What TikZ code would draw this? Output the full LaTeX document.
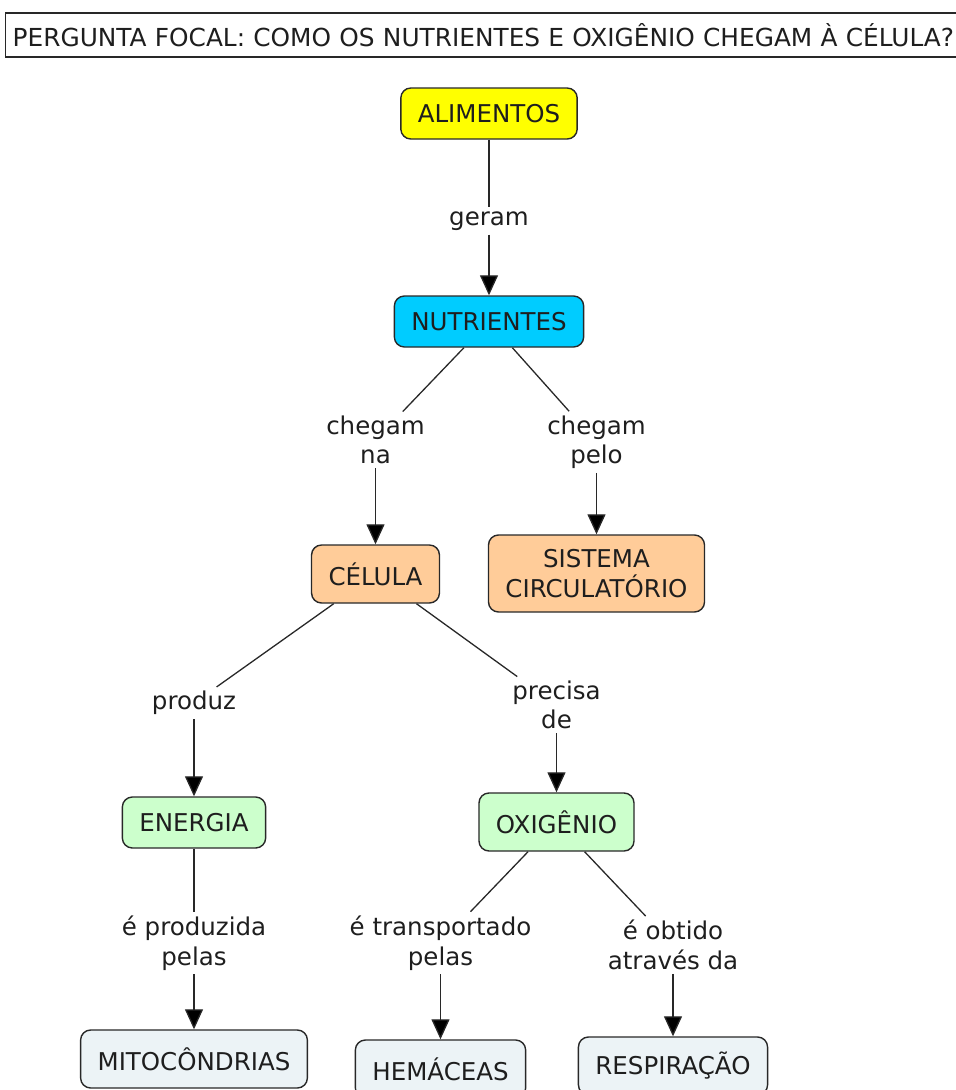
\documentclass[tikz,border=0pt]{standalone}
\usepackage{fontspec}
\setmainfont{DejaVu Sans}
\usepackage{tikz}
\usetikzlibrary{arrows.meta, positioning}
\definecolor{foodbg}{RGB}{255,255,0}
\definecolor{nutrbg}{RGB}{0,204,255}
\definecolor{orangebg}{RGB}{255,204,153}
\definecolor{greenbg}{RGB}{204,255,204}
\definecolor{greybg}{RGB}{236,243,246}
\definecolor{edgegray}{RGB}{40,40,40}
\definecolor{textgray}{RGB}{30,30,30}
\newcommand{\mapfont}{\fontsize{24.5}{29.5}\selectfont}
\tikzset{
  concept/.style={
    rectangle, rounded corners=10pt, draw=edgegray, line width=1.4pt,
    inner xsep=17pt, minimum height=51pt, align=center,
    font=\mapfont, text=textgray
  },
  linklabel/.style={align=center, font=\mapfont, text=textgray, inner sep=4pt},
  link/.style={draw=edgegray, line width=1.3pt},
  arrowlink/.style={link, -{Triangle[length=20pt, width=18pt, fill=black]}},
}

\begin{document}
\begin{tikzpicture}[x=1pt, y=-1pt]
  \useasboundingbox (0,0) rectangle (956,1090);

  % focal question
  \node[draw=edgegray, line width=1.4pt, anchor=west, minimum height=44pt,
        inner xsep=7pt, text width=948pt, align=left,
        font=\fontsize{24.8}{29.5}\selectfont, text=textgray] (focal) at (5,35)
        {PERGUNTA FOCAL: COMO OS NUTRIENTES E OXIGÊNIO CHEGAM À CÉLULA?};

  % concepts
  \node[concept, fill=foodbg] (alim) at (489,113.5) {ALIMENTOS};
  \node[concept, fill=nutrbg] (nutr) at (489,321.5) {NUTRIENTES};
  \node[concept, fill=orangebg, minimum height=58pt] (cel) at (375.5,574) {CÉLULA};
  \node[concept, fill=orangebg, minimum height=77pt] (sist) at (596.5,573.5) {SISTEMA\\CIRCULATÓRIO};
  \node[concept, fill=greenbg] (ener) at (194,822.5) {ENERGIA};
  \node[concept, fill=greenbg, minimum height=58pt] (oxi) at (556.5,822) {OXIGÊNIO};
  \node[concept, fill=greybg, minimum height=58pt] (mito) at (194,1059) {MITOCÔNDRIAS};
  \node[concept, fill=greybg, minimum height=58pt] (hema) at (440.5,1069) {HEMÁCEAS};
  \node[concept, fill=greybg, minimum height=58pt] (resp) at (673,1066) {RESPIRAÇÃO};

  % linking phrases
  \node[linklabel] (geram) at (489,221) {geram};
  \node[linklabel] (chegamna) at (375.5,440) {chegam\\na};
  \node[linklabel] (chegampelo) at (596.5,442) {chegam\\pelo};
  \node[linklabel] (produz) at (194,703) {produz};
  \node[linklabel] (precisa) at (556.5,705) {precisa\\de};
  \node[linklabel] (produzida) at (194,943) {é produzida\\pelas};
  \node[linklabel] (transp) at (440.5,943) {é transportado\\pelas};
  \node[linklabel] (obtido) at (673,945) {é obtido\\através da};

  % connectors
  \draw[link] (alim) -- (geram);
  \draw[arrowlink] (geram) -- (nutr);
  \draw[link] (nutr) -- (chegamna);
  \draw[arrowlink] (chegamna) -- (cel);
  \draw[link] (nutr) -- (chegampelo);
  \draw[arrowlink] (chegampelo) -- (sist);
  \draw[link] (cel) -- (produz);
  \draw[arrowlink] (produz) -- (ener);
  \draw[link] (cel) -- (precisa);
  \draw[arrowlink] (precisa) -- (oxi);
  \draw[link] (ener) -- (produzida);
  \draw[arrowlink] (produzida) -- (mito);
  \draw[link] (oxi) -- (transp);
  \draw[arrowlink] (transp) -- (hema);
  \draw[link] (oxi) -- (obtido);
  \draw[arrowlink] (obtido) -- (resp);
\end{tikzpicture}
\end{document}
